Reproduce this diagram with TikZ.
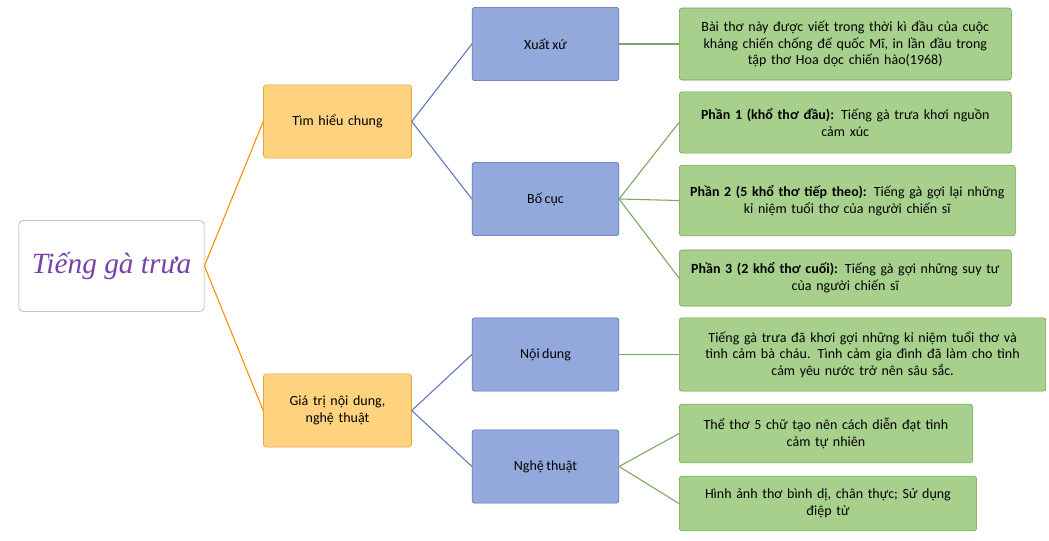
\documentclass[tikz,border=0pt]{standalone}
\usepackage{fontspec}
\setmainfont{Carlito}[WordSpace=0.8]
\newfontfamily\titlefont{Liberation Serif}
\usetikzlibrary{calc}
\definecolor{rootpurple}{HTML}{7A3FA8}
\definecolor{orangefill}{HTML}{FFD27F}
\definecolor{orangeline}{HTML}{E0A840}
\definecolor{bluefill}{HTML}{93A9DC}
\definecolor{blueline}{HTML}{4A68B0}
\definecolor{greenfill}{HTML}{A8D08D}
\definecolor{greenline}{HTML}{6A9E4A}
\begin{document}
\begin{tikzpicture}[x=0.75pt, y=-0.75pt, font=\fontsize{10.5}{12.5}\selectfont]
        % ================= styles =================
        \tikzset{
            % root box
            rootbox/.style={draw=gray!70, fill=white, rounded corners=3pt, minimum width=139pt, minimum height=68pt},
            % level boxes
            topicbox/.style={draw=orangeline, fill=orangefill, rounded corners=2pt, minimum width=111pt, minimum height=55pt, align=center, text width=100pt},
            partbox/.style={draw=blueline, fill=bluefill, rounded corners=2pt, minimum width=110pt, minimum height=55pt, align=center},
            notebox/.style={draw=greenline, fill=greenfill, rounded corners=2pt, anchor=west, align=center, inner sep=1pt},
            % connectors
            yline/.style={thick, orange!90!yellow},
            bline/.style={thick, blueline!90},
            gline/.style={thick, greenline!90}
        }
        \useasboundingbox (0,0) rectangle (1049,540);

        % ================= root =================
        \node[rootbox] (root) at (111.5,266) {\titlefont\itshape\fontsize{22}{24}\selectfont\color{rootpurple}Tiếng gà trưa};

        % ================= level 1 =================
        \node[topicbox] (chung) at (337.5,121.5) {Tìm hiểu chung};
        \node[topicbox] (giatri) at (337.5,410.5) {Giá trị nội dung,\\ nghệ thuật};

        % ================= level 2 =================
        \node[partbox] (xuatxu) at (545.5,44) {Xuất xứ};
        \node[partbox] (bocuc) at (545.5,199) {Bố cục};
        \node[partbox] (noidung) at (545.5,354.5) {Nội dung};
        \node[partbox] (nghethuat) at (545.5,466.5) {Nghệ thuật};

        % ================= level 3 =================
        \node[notebox, minimum width=249pt, minimum height=54pt, text width=246pt] (n1) at (679,44)
            {Bài thơ này được viết trong thời kì đầu của cuộc\\ kháng chiến chống đế quốc Mĩ, in lần đầu trong\\ tập thơ Hoa dọc chiến hào(1968)};
        \node[notebox, minimum width=249pt, minimum height=46pt, text width=246pt] (n2) at (679,122.5)
            {\textbf{Phần 1 (khổ thơ đầu):} Tiếng gà trưa khơi nguồn\\ cảm xúc};
        \node[notebox, minimum width=252pt, minimum height=53pt, text width=249pt] (n3) at (679,200.5)
            {\textbf{Phần 2 (5 khổ thơ tiếp theo):} Tiếng gà gợi lại những\\ kỉ niệm tuổi thơ của người chiến sĩ};
        \node[notebox, minimum width=249pt, minimum height=42pt, text width=246pt] (n4) at (679,278)
            {\textbf{Phần 3 (2 khổ thơ cuối):} Tiếng gà gợi những suy tư\\ của người chiến sĩ};
        \node[notebox, minimum width=275pt, minimum height=55pt, text width=272pt] (n5) at (679,354.5)
            {Tiếng gà trưa đã khơi gợi những kỉ niệm tuổi thơ và\\ tình cảm bà cháu. Tình cảm gia đình đã làm cho tình\\ cảm yêu nước trở nên sâu sắc.};
        \node[notebox, minimum width=220pt, minimum height=44pt, text width=217pt] (n6) at (679,433.5)
            {Thể thơ 5 chữ tạo nên cách diễn đạt tình\\ cảm tự nhiên};
        \node[notebox, minimum width=223pt, minimum height=41pt, text width=220pt] (n7) at (679,503.5)
            {Hình ảnh thơ bình dị, chân thực; Sử dụng\\ điệp từ};

        % ================= connectors =================
        \draw[yline] (root.east) -- (chung.west);
        \draw[yline] (root.east) -- (giatri.west);
        \draw[bline] (chung.east) -- (xuatxu.west);
        \draw[bline] (chung.east) -- (bocuc.west);
        \draw[bline] (giatri.east) -- (noidung.west);
        \draw[bline] (giatri.east) -- (nghethuat.west);
        \draw[gline] (xuatxu.east) -- (n1.west);
        \draw[gline] (bocuc.east) -- (n2.west);
        \draw[gline] (bocuc.east) -- (n3.west);
        \draw[gline] (bocuc.east) -- (n4.west);
        \draw[gline] (noidung.east) -- (n5.west);
        \draw[gline] (nghethuat.east) -- (n6.west);
        \draw[gline] (nghethuat.east) -- (n7.west);
\end{tikzpicture}
\end{document}
